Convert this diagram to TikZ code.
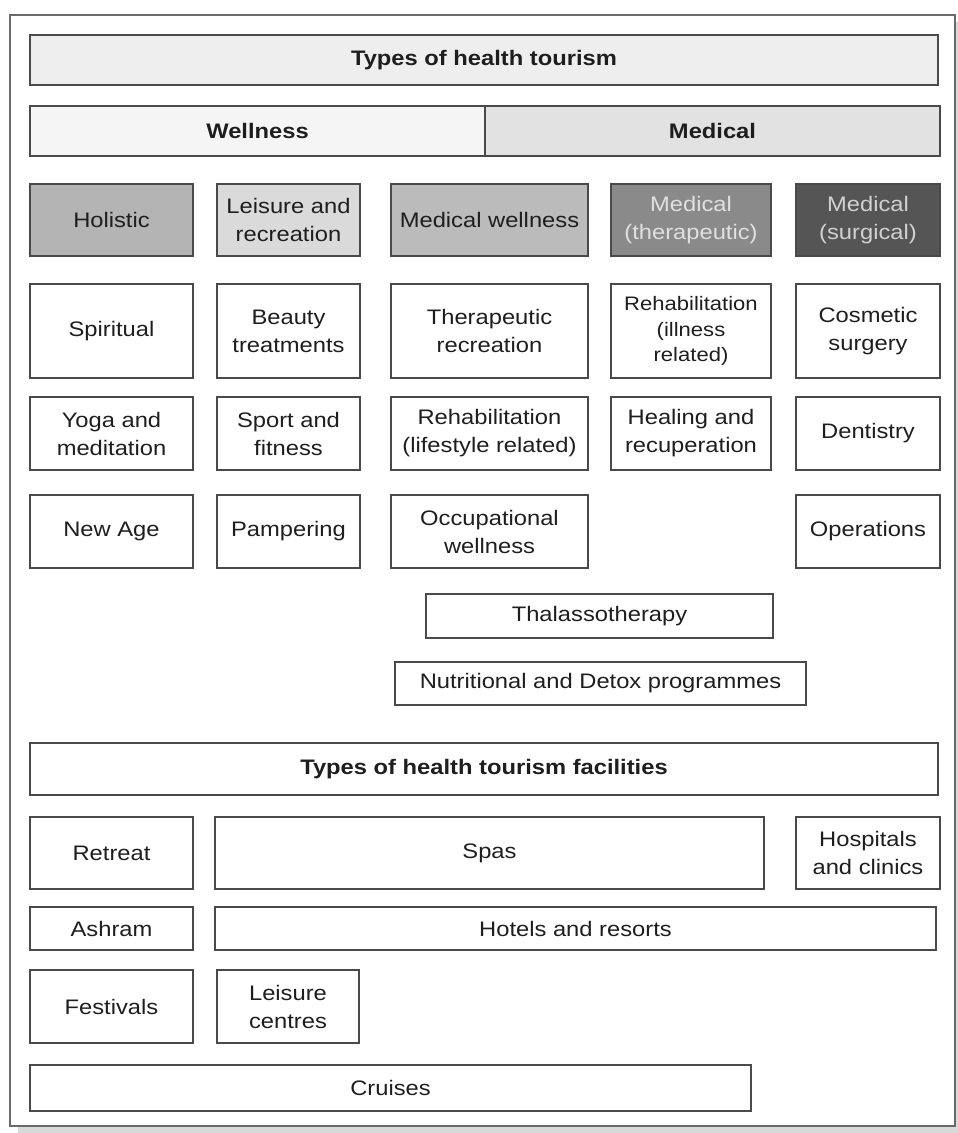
\documentclass[tikz,border=0pt]{standalone}
\usepackage{fontspec}
\setmainfont{Liberation Sans}[FakeStretch=1.13]
\definecolor{edge}{HTML}{4A4A4A}
\definecolor{frame}{HTML}{6A6A6A}
\definecolor{cTitle}{HTML}{EEEEEE}
\definecolor{cWell}{HTML}{F5F5F5}
\definecolor{cMed}{HTML}{E2E2E2}
\definecolor{cHol}{HTML}{B4B4B4}
\definecolor{cLei}{HTML}{DADADA}
\definecolor{cMW}{HTML}{BBBBBB}
\definecolor{cTher}{HTML}{8A8A8A}
\definecolor{cSurg}{HTML}{555555}
\definecolor{txt}{HTML}{1E1E1E}
\tikzset{
  bx/.style={draw=edge, line width=1.8pt, rectangle, inner sep=0pt, align=center, fill=white,
    text=txt, font=\fontsize{21}{28}\selectfont},
  head/.style={font=\fontsize{21}{28}\selectfont\bfseries},
  small/.style={font=\fontsize{19.5}{25.5}\selectfont},
}
\newcommand\mkbox[7][]{\node[bx,#1,minimum width={#4-#2},minimum height={#5-#3}] (#6) at ({(#2+#4)/2},{(#3+#5)/2}) {#7};}
\begin{document}
\begin{tikzpicture}[x=1pt,y=-1pt]
\useasboundingbox (0,0) rectangle (958,1133);
\fill[white] (0,0) rectangle (958,1133);
% shadow and outer frame
\fill[gray!30] (18,22) rectangle (958,1133);
\draw[frame, line width=2pt, fill=white] (10,15) rectangle (955,1126);
% header rows
\mkbox[head,fill=cTitle]{30}{35}{938}{85}{title}{Types of health tourism}
\mkbox[head,fill=cWell]{30}{106}{485}{156}{well}{Wellness}
\mkbox[head,fill=cMed]{485}{106}{940}{156}{med}{Medical}
% categories
\mkbox[fill=cHol]{30}{184}{193}{256}{hol}{Holistic}
\mkbox[fill=cLei]{217}{184}{360}{256}{lei}{Leisure and\\recreation}
\mkbox[fill=cMW]{391}{184}{588}{256}{mw}{Medical wellness}
\mkbox[fill=cTher,text=black!12]{611}{184}{771}{256}{ther}{Medical\\(therapeutic)}
\mkbox[fill=cSurg,text=black!18]{796}{184}{940}{256}{surg}{Medical\\(surgical)}
% row 2
\mkbox{30}{284}{193}{378}{spir}{Spiritual}
\mkbox{217}{284}{360}{378}{beauty}{Beauty\\treatments}
\mkbox{391}{284}{588}{378}{threc}{Therapeutic\\recreation}
\mkbox[small]{611}{284}{771}{378}{rehabill}{Rehabilitation\\(illness\\related)}
\mkbox{796}{284}{940}{378}{cosm}{Cosmetic\\surgery}
% row 3
\mkbox{30}{397}{193}{470}{yoga}{Yoga and\\meditation}
\mkbox{217}{397}{360}{470}{sport}{Sport and\\fitness}
\mkbox{391}{397}{588}{470}{rehablife}{Rehabilitation\\(lifestyle related)}
\mkbox{611}{397}{771}{470}{heal}{Healing and\\recuperation}
\mkbox{796}{397}{940}{470}{dent}{Dentistry}
% row 4
\mkbox{30}{495}{193}{568}{newage}{New Age}
\mkbox{217}{495}{360}{568}{pamp}{Pampering}
\mkbox{391}{495}{588}{568}{occ}{Occupational\\wellness}
\mkbox{796}{495}{940}{568}{oper}{Operations}
% wide items
\mkbox{426}{594}{773}{638}{thal}{Thalassotherapy}
\mkbox{395}{662}{806}{705}{nutr}{Nutritional and Detox programmes}
% facilities
\mkbox[head]{30}{743}{938}{795}{fac}{Types of health tourism facilities}
\mkbox{30}{817}{193}{889}{retreat}{Retreat}
\mkbox{215}{817}{764}{889}{spas}{Spas}
\mkbox{796}{817}{940}{889}{hosp}{Hospitals\\and clinics}
\mkbox{30}{907}{193}{950}{ashram}{Ashram}
\mkbox{215}{907}{936}{950}{hotels}{Hotels and resorts}
\mkbox{30}{970}{193}{1043}{fest}{Festivals}
\mkbox{217}{970}{359}{1043}{leisc}{Leisure\\centres}
\mkbox{30}{1065}{751}{1111}{cruise}{Cruises}
\end{tikzpicture}
\end{document}
